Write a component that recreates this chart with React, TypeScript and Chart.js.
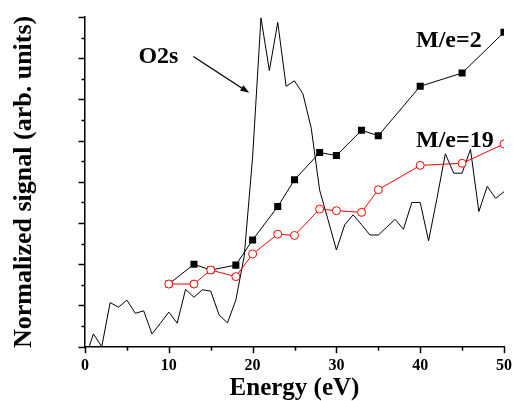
import React, { useEffect, useRef } from "react";
import { Chart, registerables } from "chart.js";

Chart.register(...registerables);

// Spectrum (black line, no markers)
const spectrumE = [0.5, 1, 2, 3, 4, 5, 6, 7, 8, 9, 10, 11, 12, 13, 14, 15, 16, 17, 18, 19, 20, 21, 22, 23, 24, 25, 26, 27, 28, 29, 30, 31, 32, 33, 34, 35, 36, 37, 38, 39, 40, 41, 42, 43, 44, 45, 46, 47, 48, 49, 50];
const spectrumV = [0, 0.31, 0, 1.07, 0.96, 1.13, 0.81, 0.87, 0.31, 0.57, 0.84, 0.57, 1.39, 1.2, 1.38, 1.35, 0.77, 0.58, 1.13, 2.2, 4.6, 7.98, 6.7, 7.87, 6.32, 6.45, 6.14, 5.3, 3.8, 3.08, 2.35, 2.96, 3.2, 2.96, 2.71, 2.71, 2.9, 3.09, 2.85, 3.5, 3.5, 2.57, 3.6, 4.68, 4.21, 4.21, 4.79, 3.28, 3.89, 3.6, 3.76];

// Ion yield series
const energies = [10, 13, 15, 18, 20, 23, 25, 28, 30, 33, 35, 40, 45, 50];
const me2 = [1.52, 2.0, 1.86, 1.98, 2.59, 3.4, 4.05, 4.71, 4.64, 5.25, 5.12, 6.32, 6.64, 7.63];
const me19 = [1.52, 1.52, 1.86, 1.7, 2.25, 2.73, 2.7, 3.34, 3.3, 3.26, 3.81, 4.4, 4.45, 4.92];

// Axis ticks
const xMajorTicks = [0, 10, 20, 30, 40, 50];
const xMinorTicks = [5, 15, 25, 35, 45];
const yMajorTicks = [0, 1, 2, 3, 4, 5, 6, 7, 8];
const yMinorTicks = [0.5, 1.5, 2.5, 3.5, 4.5, 5.5, 6.5, 7.5];

// Annotations (data coordinates)
const labelTexts = ["O2s", "M/e=2", "M/e=19"];
const labelE = [6.37, 39.5, 39.5];
const labelV = [6.89, 7.26, 4.85];
const arrowFrom = [12.93, 7.04];
const arrowTo = [19.6, 6.16];

const FONT = "'Liberation Serif', 'Times New Roman', serif";

const extrasPlugin = {
  id: "extras",
  afterDraw(chart: any) {
    const ctx = chart.ctx;
    const xs = chart.scales.x;
    const ys = chart.scales.y;
    const area = chart.chartArea;
    ctx.save();
    ctx.strokeStyle = "#000";
    ctx.lineWidth = 1.5;
    const drawX = (vals: number[], len: number) => {
      vals.forEach((v) => {
        const px = Math.round(xs.getPixelForValue(v)) + 0.5;
        ctx.beginPath();
        ctx.moveTo(px, area.bottom);
        ctx.lineTo(px, area.bottom + len);
        ctx.stroke();
      });
    };
    drawX(xMajorTicks, 6.5);
    drawX(xMinorTicks, 4);
    const drawY = (vals: number[], len: number) => {
      vals.forEach((v) => {
        const py = Math.round(ys.getPixelForValue(v)) + 0.5;
        ctx.beginPath();
        ctx.moveTo(area.left, py);
        ctx.lineTo(area.left - len, py);
        ctx.stroke();
      });
    };
    drawY(yMajorTicks, 6.5);
    drawY(yMinorTicks, 3.5);

    ctx.fillStyle = "#000";
    ctx.font = `bold 24px ${FONT}`;
    ctx.textAlign = "left";
    ctx.textBaseline = "alphabetic";
    labelTexts.forEach((t, i) => {
      ctx.fillText(t, xs.getPixelForValue(labelE[i]), ys.getPixelForValue(labelV[i]));
    });

    const x1 = xs.getPixelForValue(arrowFrom[0]);
    const y1 = ys.getPixelForValue(arrowFrom[1]);
    const x2 = xs.getPixelForValue(arrowTo[0]);
    const y2 = ys.getPixelForValue(arrowTo[1]);
    const ang = Math.atan2(y2 - y1, x2 - x1);
    const hl = 9;
    const hw = 3.2;
    const bx = x2 - hl * Math.cos(ang);
    const by = y2 - hl * Math.sin(ang);
    ctx.lineWidth = 1.3;
    ctx.beginPath();
    ctx.moveTo(x1, y1);
    ctx.lineTo(bx, by);
    ctx.stroke();
    ctx.beginPath();
    ctx.moveTo(x2, y2);
    ctx.lineTo(bx + hw * Math.sin(ang), by - hw * Math.cos(ang));
    ctx.lineTo(bx - hw * Math.sin(ang), by + hw * Math.cos(ang));
    ctx.closePath();
    ctx.fill();
    ctx.restore();
  },
};

export default function App() {
  const ref = useRef<HTMLCanvasElement | null>(null);
  useEffect(() => {
    if (!ref.current) return;
    const chart = new Chart(ref.current, {
      type: "line",
      data: {
        datasets: [
          {
            label: "M/e=19",
            data: energies.map((e, i) => ({ x: e, y: me19[i] })),
            borderColor: "#ff0000",
            backgroundColor: "#ffffff",
            borderWidth: 1,
            pointStyle: "circle",
            pointRadius: 4,
            pointBorderWidth: 1,
            pointBorderColor: "#ff0000",
            pointBackgroundColor: "#ffffff",
            tension: 0,
            fill: false,
          },
          {
            label: "M/e=2",
            data: energies.map((e, i) => ({ x: e, y: me2[i] })),
            borderColor: "#000000",
            backgroundColor: "#000000",
            borderWidth: 1,
            pointStyle: "rect",
            pointRadius: 5,
            pointBorderWidth: 0,
            pointBackgroundColor: "#000000",
            tension: 0,
            fill: false,
          },
          {
            label: "spectrum",
            data: spectrumE.map((e, i) => ({ x: e, y: spectrumV[i] })),
            borderColor: "#000000",
            borderWidth: 1,
            pointRadius: 0,
            tension: 0,
            fill: false,
          },
        ],
      },
      options: {
        animation: false,
        responsive: false,
        maintainAspectRatio: false,
        devicePixelRatio: 1,
        layout: { padding: { left: 0, right: 10, top: 17, bottom: 0 } },
        plugins: { legend: { display: false }, tooltip: { enabled: false } },
        scales: {
          x: {
            type: "linear",
            min: 0,
            max: 50,
            afterBuildTicks: (s: any) => {
              s.ticks = xMajorTicks.map((v) => ({ value: v }));
            },
            afterFit: (s: any) => {
              s.height = 54.3;
              s.paddingLeft = 0;
              s.paddingRight = 0;
            },
            ticks: {
              color: "#000",
              padding: 0,
              maxRotation: 0,
              font: { family: FONT, size: 16, weight: "bold" },
            },
            grid: { display: false, drawTicks: true, tickLength: 10 },
            border: { display: true, color: "#000", width: 1.5 },
            title: {
              display: true,
              text: "Energy (eV)",
              color: "#000",
              padding: { top: 0, bottom: 0 },
              font: { family: FONT, size: 25, weight: "bold", lineHeight: 1 },
            },
          },
          y: {
            type: "linear",
            min: 0,
            max: 8,
            afterFit: (s: any) => {
              s.width = 85;
              s.paddingTop = 0;
              s.paddingBottom = 0;
            },
            ticks: { display: false },
            grid: { display: false, drawTicks: false },
            border: { display: true, color: "#000", width: 1.5 },
            title: {
              display: true,
              text: "Normalized signal (arb. units)",
              color: "#000",
              padding: { top: 8.6, bottom: 0 },
              font: { family: FONT, size: 26, weight: "bold" },
            },
          },
        },
      },
      plugins: [extrasPlugin],
    } as any);
    return () => chart.destroy();
  }, []);
  return (
    <div style={{ position: "fixed", left: 0, top: 0, width: 514, height: 401, background: "#fff" }}>
      <canvas ref={ref} width={514} height={401} style={{ display: "block" }} />
    </div>
  );
}
